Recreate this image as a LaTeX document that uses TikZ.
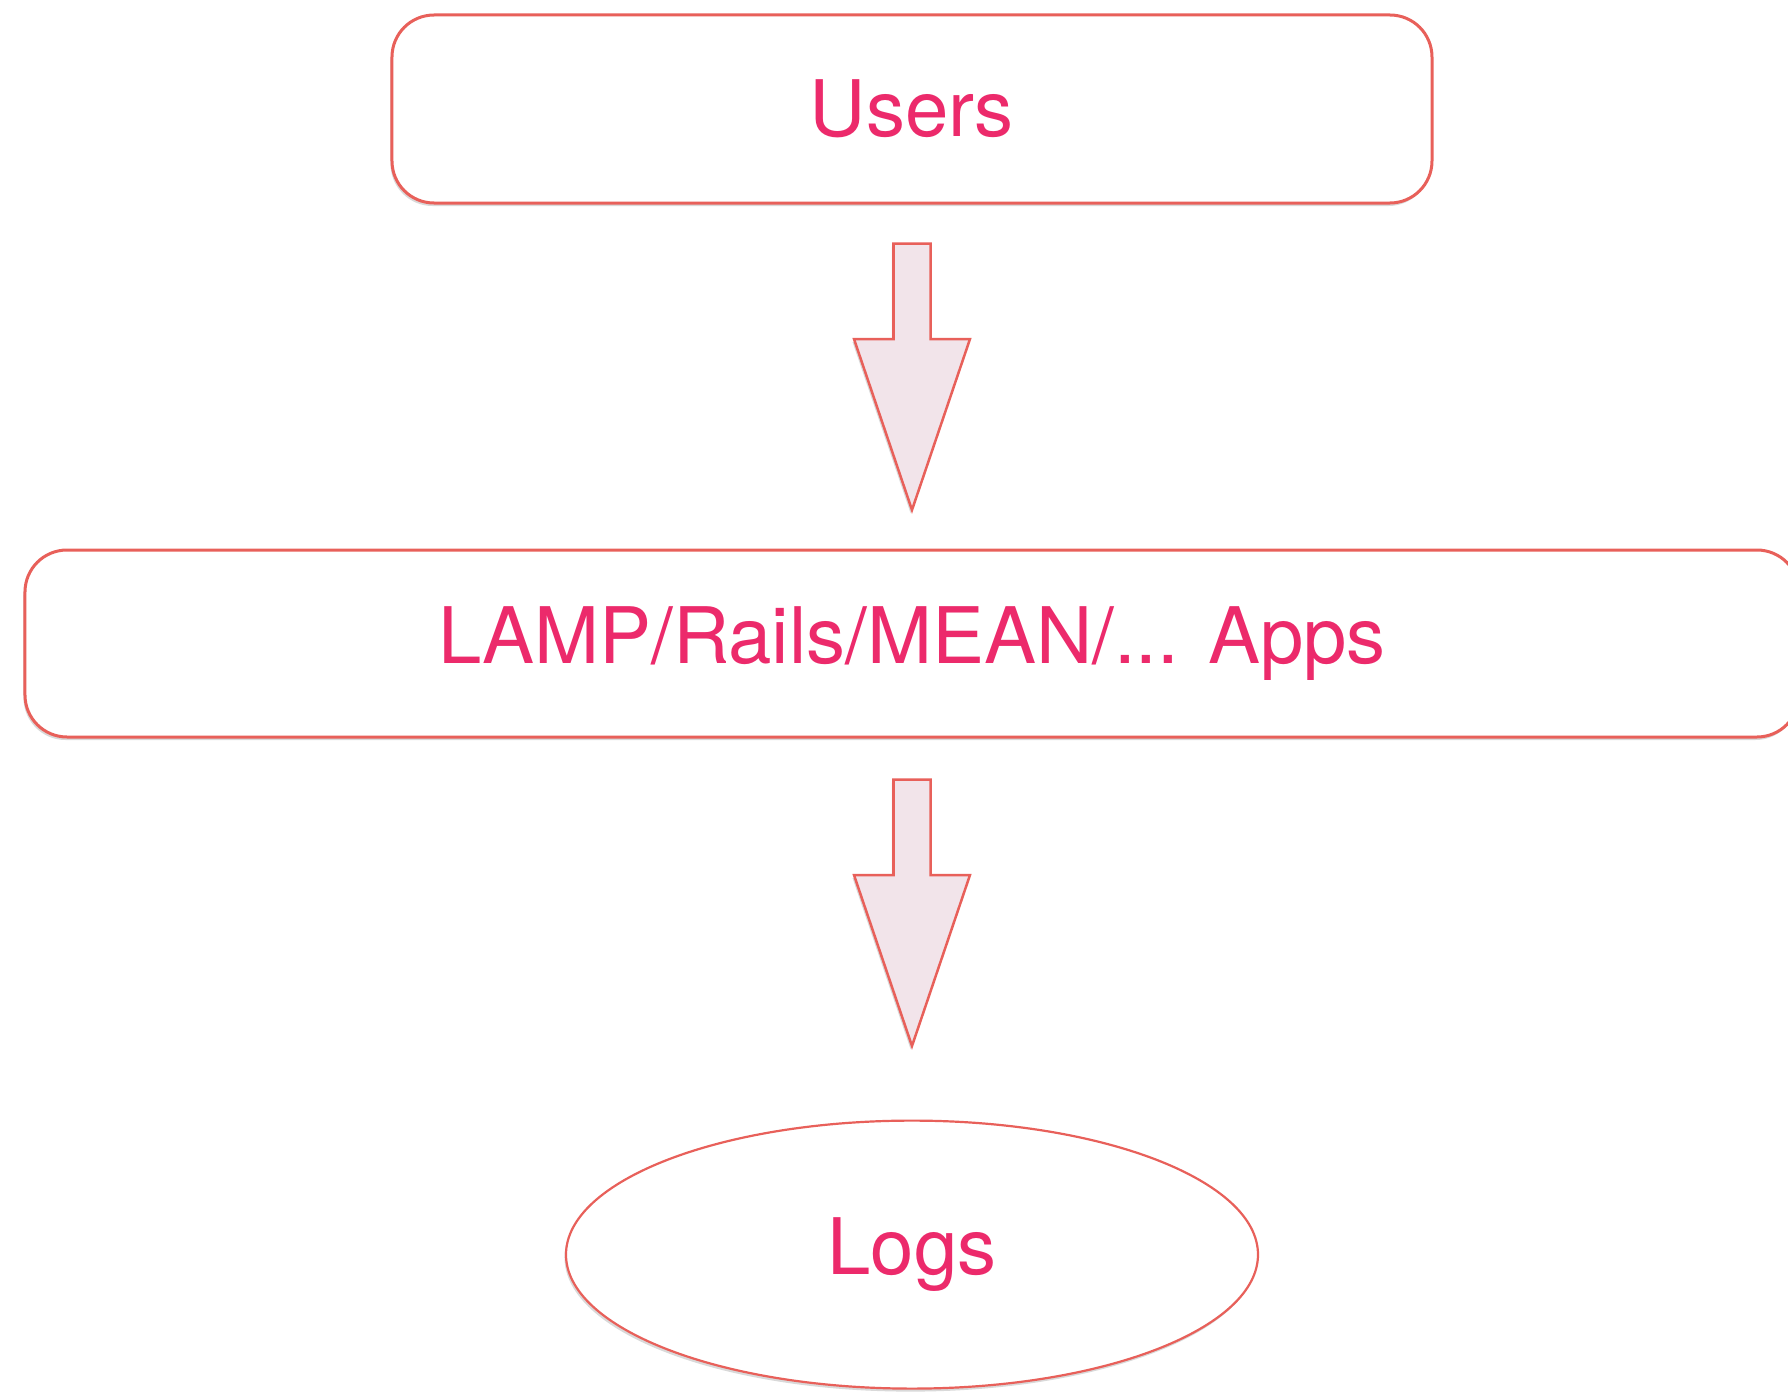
\documentclass[tikz,border=0pt]{standalone}
\usepackage{fontspec}
\setmainfont{TeX Gyre Heros}
\usetikzlibrary{positioning,shapes.geometric,shadows,calc}

\definecolor{boxred}{HTML}{E8605A}
\definecolor{textpink}{HTML}{EC2A6B}
\definecolor{arrowfill}{HTML}{F2E4EA}

\tikzset{
    softshadow/.style={drop shadow={shadow xshift=-1.5pt, shadow yshift=-3pt, opacity=0.25, fill=black!60}},
    labeltext/.style={text=textpink, font=\fontsize{78}{90}\selectfont},
    stagebox/.style={draw=boxred, line width=3pt, rounded corners=42pt, fill=white, softshadow, labeltext},
    storeshape/.style={ellipse, draw=boxred, line width=2.2pt, fill=white, softshadow, labeltext},
    blockarrow/.pic={
        \draw [draw=boxred, line width=2.5pt, fill=arrowfill, line join=miter, softshadow]
            (-18.5, 0) -- (18.5, 0) -- (18.5, -95.5) -- (58, -95.5)
            -- (0, -266.5) -- (-58, -95.5) -- (-18.5, -95.5) -- cycle;
    }
}

\begin{document}
\begin{tikzpicture}[x=1pt, y=1pt]

    \useasboundingbox (-912, 109) rectangle (876, -1283);

    \node [stagebox, minimum width=1040pt, minimum height=188pt] (users) at (0, 0) {Users};

    \node [stagebox, minimum width=1774pt, minimum height=187pt, below=344pt of users] (apps) {LAMP/Rails/MEAN/... Apps};

    \node [storeshape, minimum width=692pt, minimum height=268pt, below=381pt of apps] (logs) {Logs};

    % flow arrows between the layers
    \pic at ($(users.south) + (0, -39)$) {blockarrow};
    \pic at ($(apps.south) + (0, -41)$) {blockarrow};

\end{tikzpicture}
\end{document}
